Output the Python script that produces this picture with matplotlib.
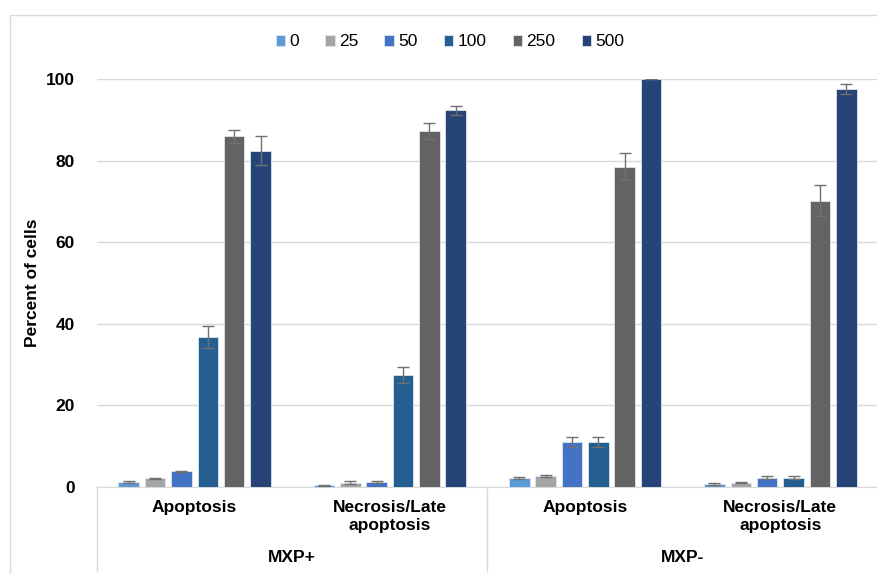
import numpy as np
import matplotlib.pyplot as plt
from matplotlib.patches import Rectangle
from matplotlib.lines import Line2D

# data
groups = ["MXP+", "MXP-"]
categories = ["Apoptosis", "Necrosis/Late\napoptosis", "Apoptosis", "Necrosis/Late\napoptosis"]
doses = ["0", "25", "50", "100", "250", "500"]
colors = ["#5B9BD5", "#A5A5A5", "#4472C4", "#255E91", "#636363", "#264478"]

values = {
    "0":   [1.2, 0.4, 2.2, 0.8],
    "25":  [2.1, 1.1, 2.7, 1.1],
    "50":  [3.8, 1.3, 11.0, 2.3],
    "100": [36.8, 27.5, 11.0, 2.3],
    "250": [86.0, 87.2, 78.5, 70.2],
    "500": [82.4, 92.3, 100.0, 97.5],
}
errors = {
    "0":   [0.2, 0.1, 0.3, 0.2],
    "25":  [0.2, 0.3, 0.2, 0.2],
    "50":  [0.2, 0.2, 1.3, 0.4],
    "100": [2.7, 2.0, 1.3, 0.4],
    "250": [1.6, 2.0, 3.3, 3.8],
    "500": [3.6, 1.2, 0.0, 1.2],
}

plt.rcParams['font.family'] = ['Liberation Sans', 'DejaVu Sans']

fig = plt.figure(figsize=(8.78, 5.74), dpi=100)
ax = fig.add_axes([97 / 878, 1 - 487 / 574, 781 / 878, (487 - 79) / 574])

x = np.arange(len(categories))
width = 0.135
for i, d in enumerate(doses):
    pos = x + (i - 2.5) * width
    ax.bar(pos, values[d], width * 0.78, color=colors[i], edgecolor="#DCE6F2",
           linewidth=0.6, label=d, zorder=3,
           yerr=errors[d], error_kw=dict(ecolor="#707070", elinewidth=1, capsize=4, capthick=1, zorder=4))

ax.set_xlim(-0.5, len(categories) - 0.5)
ax.set_ylim(0, 100)
ax.set_yticks(range(0, 101, 20))
ax.tick_params(axis='y', length=0, pad=16, labelsize=12.5)
for lbl in ax.get_yticklabels():
    lbl.set_fontweight('bold')
ax.set_xticks([])
ax.grid(axis='y', color="#D9D9D9", linewidth=1, zorder=0)
for s in ["top", "right", "left"]:
    ax.spines[s].set_visible(False)
ax.spines["bottom"].set_color("#D9D9D9")

ax.set_ylabel("Percent of cells", fontsize=12.5, fontweight='bold', labelpad=4)

# multi-level category axis
trans = ax.get_xaxis_transform()
for xv in [-0.5, 1.5, 3.5]:
    ax.add_line(Line2D([xv, xv], [0, -0.205], transform=trans, color="#D9D9D9",
                       linewidth=1, clip_on=False))
for xi, c in zip(x, categories):
    ax.text(xi, -0.032, c, transform=trans, ha='center', va='top', fontsize=12.5,
            fontweight='bold', linespacing=1.25)
for gi, g in enumerate(groups):
    ax.text(gi * 2 + 0.5, -0.172, g, transform=trans, ha='center', va='center',
            fontsize=12.5, fontweight='bold')

leg = ax.legend(loc='center', bbox_to_anchor=(450 / 878, 1 - 42 / 574),
                bbox_transform=fig.transFigure, ncol=6, frameon=False, fontsize=12.5,
                handlelength=0.55, handleheight=0.55, handletextpad=0.25, columnspacing=1.5)

# outer frame
fig.add_artist(Rectangle((10 / 878, -0.01), 1.0, 1 - 15 / 574 + 0.01, transform=fig.transFigure,
                         fill=False, edgecolor="#D9D9D9", linewidth=1))

fig.savefig("out.png", dpi=100)
